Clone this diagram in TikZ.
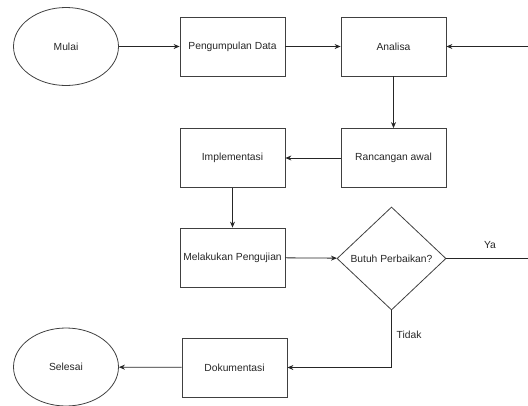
\documentclass[tikz,border=0pt]{standalone}
\usepackage{fontspec}
\setmainfont{Liberation Sans}
\usetikzlibrary{arrows.meta,shapes.geometric}
\begin{document}
\begin{tikzpicture}[x=1pt,y=-1pt,
  every node/.style={font=\fontsize{10.3}{12}\selectfont, text=black!85},
  box/.style={draw=black!75, line width=0.8pt, minimum width=105pt, minimum height=59pt, inner sep=1pt},
  oval/.style={draw=black!75, line width=0.8pt, ellipse, minimum width=105pt, minimum height=78pt, inner sep=0pt},
  dec/.style={draw=black!75, line width=0.8pt, diamond, minimum width=109pt, minimum height=103pt, inner sep=0pt},
  conn/.style={draw=black!85, line width=0.8pt, -{Stealth[length=6pt,width=5pt]}},
  plain/.style={draw=black!85, line width=0.8pt}]
\useasboundingbox (0,0) rectangle (528,405);
\node[oval] (mulai) at (66,46.5) {Mulai};
\node[box] (kumpul) at (232.5,46.5) {Pengumpulan Data};
\node[box] (analisa) at (393.5,46.5) {Analisa};
\node[box] (rancang) at (393.5,158) {Rancangan awal};
\node[box] (impl) at (232.5,158) {Implementasi};
\node[box] (uji) at (232.5,257.5) {Melakukan Pengujian};
\node[dec] (butuh) at (391.5,258.5) {Butuh Perbaikan?};
\node[box] (dok) at (234.5,367.5) {Dokumentasi};
\node[oval] (selesai) at (66,367) {Selesai};
\coordinate (rin) at (528,46.5);
\coordinate (rout) at (528,258.5);
\coordinate (bend) at (391.5,367.5);
\draw[conn] (mulai) -- (kumpul);
\draw[conn] (kumpul) -- (analisa);
\draw[conn] (rin) -- (analisa.east);
\draw[conn] (analisa) -- (rancang);
\draw[conn] (rancang) -- (impl);
\draw[conn] (impl) -- (uji);
\draw[conn] (uji) -- (butuh);
\draw[plain] (butuh.east) -- (rout);
\draw[conn] (butuh.south) -- (bend) -- (dok.east);
\draw[conn] (dok) -- (selesai);
\node (ya) at (490,245) {Ya};
\node (tidak) at (409,335) {Tidak};
\end{tikzpicture}
\end{document}
